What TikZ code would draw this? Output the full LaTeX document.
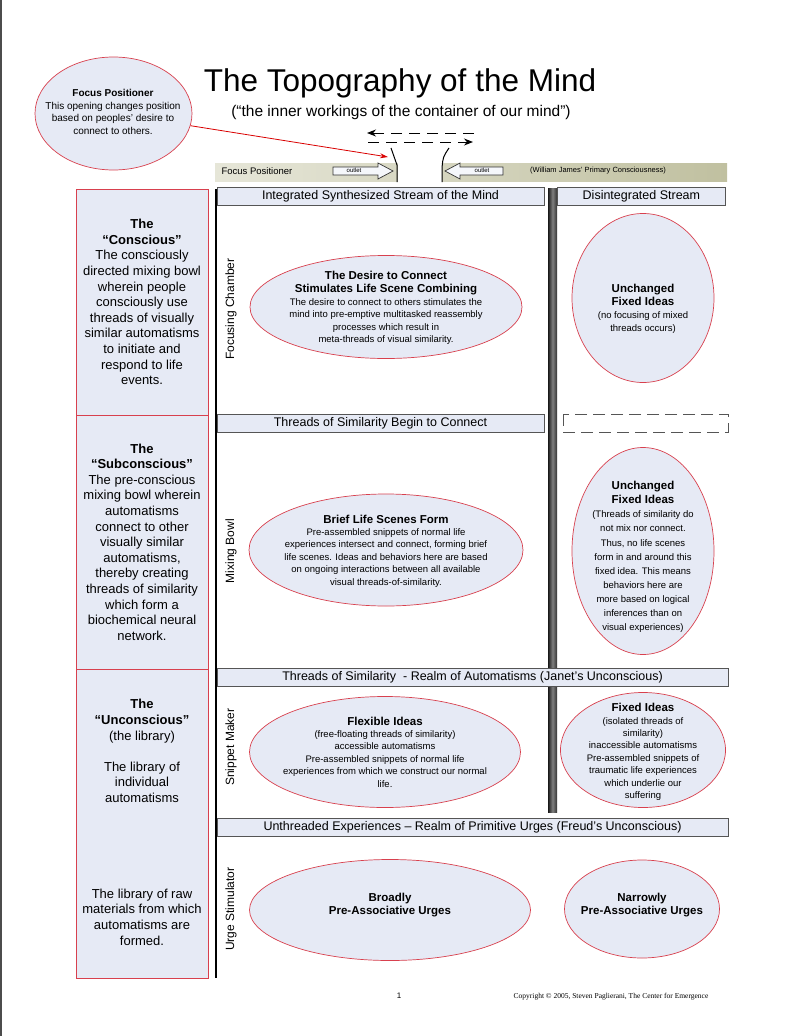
\documentclass[tikz,border=0pt]{standalone}
\usepackage{fontspec}
\setmainfont{Liberation Sans}
\newfontfamily\footfont{Liberation Serif}
\usepackage{tikz}
\usetikzlibrary{arrows.meta, positioning, calc, shapes.geometric}
\definecolor{paleblue}{HTML}{E6EAF5}
\definecolor{rimred}{HTML}{D8404E}
\definecolor{edgegray}{HTML}{555555}
\definecolor{khakil}{HTML}{E6E6D8}
\definecolor{khakir}{HTML}{C0C0A0}
\newcommand{\fsz}[2]{\fontsize{#1}{#2}\selectfont}
\newcommand{\hd}[1]{{\fsz{11.5}{14}\bfseries #1}}

\begin{document}
\begin{tikzpicture}[
  x=1pt, y=-1pt,
  sidebox/.style={draw=rimred, fill=paleblue, line width=0.9pt,
                  minimum width=132pt, align=center, font=\fsz{13}{15.6}},
  hdr/.style={draw=edgegray, fill=paleblue, minimum height=18pt,
              inner sep=0pt, font=\fsz{12.5}{15}},
  bubble/.style={ellipse, draw=rimred, fill=paleblue, line width=0.7pt, inner sep=0pt},
  bubtext/.style={align=center, font=\fsz{9.5}{12.4}},
  side/.style={rotate=90, font=\fsz{12}{14}},
  outlet/.style={draw=black!80, fill=paleblue!40, line width=0.7pt},
  dasharr/.style={dash pattern=on 11pt off 7pt, line width=1pt,
                  -{Stealth[length=9pt, width=7pt]}},
  redarr/.style={draw=red!85!black, line width=0.8pt,
                 -{Stealth[length=8pt, width=5pt]}}
]
  \useasboundingbox (0,0) rectangle (801,1036);
  \draw[black!70, line width=1.5pt] (0.75,0) -- (0.75,1036);

  % Title
  \node[font=\fsz{31.5}{36}] (title) at (400,83) {The Topography of the Mind};
  \node[font=\fsz{15.5}{18}] (sub) at (401,112)
    {(“the inner workings of the container of our mind”)};

  % Focus positioner callout
  \node[bubble, minimum width=157, minimum height=113] (focus) at (113.5,113.5) {};
  \node[bubtext, font=\fsz{10}{12.6}] (focus-t) at (113,112)
    {\textbf{Focus Positioner}\\ This opening changes position\\
     based on peoples’ desire to\\ connect to others.};

  % Opening and direction arrows
  \coordinate (gap) at (388,157);
  \coordinate (upR) at (474,133);
  \coordinate (upL) at (367,133);
  \coordinate (loL) at (368,142);
  \coordinate (loR) at (473,142);
  \draw[dasharr] (upR) -- (upL);
  \draw[dasharr] (loL) -- (loR);

  % Focus positioner band
  \shade[left color=khakil, right color=khakir] (215,163) rectangle (727,181);
  \fill[white] (397.5,162) rectangle (441.5,182);
  \draw[line width=1pt] (391,148) -- (397,165) -- (397,182);
  \draw[line width=1pt] (449,148) .. controls (443,157) .. (442,168) -- (442,182);
  \node[font=\fsz{9.5}{11}, anchor=west] (fpos) at (218,171) {Focus Positioner};
  \draw[outlet] (333,167) -- (378,167) -- (378,163) -- (393,171)
    -- (378,179) -- (378,175) -- (333,175) -- cycle;
  \draw[outlet] (503,167) -- (460,167) -- (460,163) -- (445,171)
    -- (460,179) -- (460,175) -- (503,175) -- cycle;
  \node[font=\fsz{6}{7}] (outL) at (354,170.5) {outlet};
  \node[font=\fsz{6}{7}] (outR) at (482,170.5) {outlet};
  \node[font=\fsz{7.5}{9}] (james) at (598,171) {(William James' Primary Consciousness)};
  \draw[redarr] (focus) -- (gap);

  % Levels of mind
  \node[sidebox, minimum height=226] (consc) at (142,302)
    {\textbf{The}\\ \textbf{“Conscious”}\\ The consciously\\ directed mixing bowl\\
     wherein people\\ consciously use\\ threads of visually\\ similar automatisms\\
     to initiate and\\ respond to life\\ events.};
  \node[sidebox, minimum height=254] (subc) at (142,542)
    {\textbf{The}\\ \textbf{“Subconscious”}\\ The pre-conscious\\ mixing bowl wherein\\
     automatisms\\ connect to other\\ visually similar\\ automatisms,\\
     thereby creating\\ threads of similarity\\ which form a\\
     biochemical neural\\ network.};
  \node[sidebox, minimum height=309] (uncon) at (142,823.5) {};
  \node[align=center, font=\fsz{13}{15.6}] (uncon-a) at (142,751)
    {\textbf{The}\\ \textbf{“Unconscious”}\\ (the library)\\[15.6pt]
     The library of\\ individual\\ automatisms};
  \node[align=center, font=\fsz{13}{15.6}] (uncon-b) at (142,917)
    {The library of raw\\ materials from which\\ automatisms are\\ formed.};

  % Streams
  \draw[line width=1.2pt] (216,189) -- (216,978);
  \shade[left color=black!90, right color=black!80, middle color=black!50]
    (548,188) rectangle (557,812);
  \node[hdr, minimum width=327] (integ) at (380.5,196.5)
    {Integrated Synthesized Stream of the Mind};
  \node[hdr, minimum width=168, right=13pt of integ] (disint) {Disintegrated Stream};
  \node[hdr, minimum width=327] (begin) at (380.5,423)
    {Threads of Similarity Begin to Connect};
  \draw[edgegray, line width=0.8pt, dash pattern=on 12pt off 6pt]
    (563,414) rectangle (728,432);
  \node[hdr, minimum width=511] (janet) at (472.5,677.5)
    {Threads of Similarity\ \ - Realm of Automatisms (Janet's Unconscious)};
  \node[hdr, minimum width=511] (freud) at (472.5,827.5)
    {Unthreaded Experiences -- Realm of Primitive Urges (Freud's Unconscious)};

  \node[side] (chamber) at (231,309) {Focusing Chamber};
  \node[side] (bowl) at (231,551) {Mixing Bowl};
  \node[side] (snippet) at (231,747) {Snippet Maker};
  \node[side] (urge) at (231,909) {Urge Stimulator};

  % Focusing chamber
  \node[bubble, minimum width=272, minimum height=103] (desire) at (386,307) {};
  \node[bubtext] (desire-t) at (386,308)
    {\hd{The Desire to Connect}\\ \hd{Stimulates Life Scene Combining}\\[1pt]
     The desire to connect to others stimulates the\\
     mind into pre-emptive multitasked reassembly\\
     processes which result in\\ meta-threads of visual similarity.};
  \node[bubble, minimum width=142, minimum height=169] (unch1) at (643,298) {};
  \node[bubtext, font=\fsz{9.5}{13}] (unch1-t) at (643,309)
    {\hd{Unchanged}\\ \hd{Fixed Ideas}\\ (no focusing of mixed\\ threads occurs)};

  % Mixing bowl
  \node[bubble, minimum width=274, minimum height=112] (scenes) at (386,550) {};
  \node[bubtext] (scenes-t) at (386,551)
    {\hd{Brief Life Scenes Form}\\ Pre-assembled snippets of normal life\\
     experiences intersect and connect, forming brief\\
     life scenes. Ideas and behaviors here are based\\
     on ongoing interactions between all available\\ visual threads-of-similarity.};
  \node[bubble, minimum width=142, minimum height=207] (unch2) at (643,551) {};
  \node[bubtext, font=\fsz{9.5}{14.1}] (unch2-t) at (643,557)
    {\hd{Unchanged}\\ \hd{Fixed Ideas}\\ (Threads of similarity do\\ not mix nor connect.\\
     Thus, no life scenes\\ form in and around this\\ fixed idea. This means\\
     behaviors here are\\ more based on logical\\ inferences than on\\ visual experiences)};

  % Snippet maker
  \node[bubble, minimum width=271, minimum height=111] (flex) at (385,752) {};
  \node[bubtext] (flex-t) at (385,752)
    {\hd{Flexible Ideas}\\ (free-floating threads of similarity)\\ accessible automatisms\\
     Pre-assembled snippets of normal life\\
     experiences from which we construct our normal\\ life.};
  \node[bubble, minimum width=165, minimum height=115] (fixed) at (643,750) {};
  \node[bubtext] (fixed-t) at (643,752)
    {\hd{Fixed Ideas}\\ (isolated threads of\\ similarity)\\ inaccessible automatisms\\
     Pre-assembled snippets of\\ traumatic life experiences\\ which underlie our\\ suffering};

  % Urge stimulator
  \node[bubble, minimum width=281, minimum height=101] (broad) at (390,910) {};
  \node[bubtext] (broad-t) at (390,905) {\hd{Broadly}\\ \hd{Pre-Associative Urges}};
  \node[bubble, minimum width=155, minimum height=98] (narrow) at (642,909) {};
  \node[bubtext] (narrow-t) at (642,905) {\hd{Narrowly}\\ \hd{Pre-Associative Urges}};

  % Footer
  \node[font=\fsz{8}{10}] (page) at (399,996) {1};
  \node[font=\footfont\fsz{7.5}{9}] (copy) at (611,997)
    {Copyright © 2005, Steven Paglierani, The Center for Emergence};
\end{tikzpicture}
\end{document}
